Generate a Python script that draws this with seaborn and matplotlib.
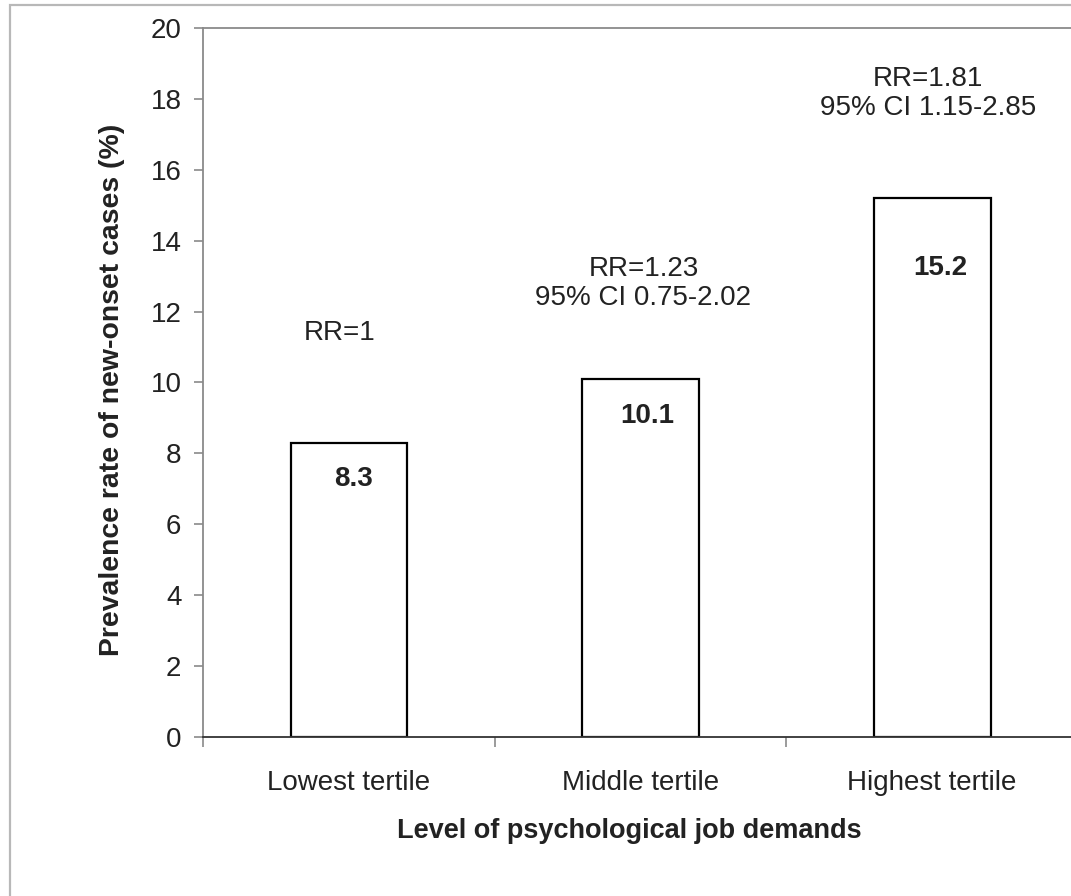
import matplotlib
matplotlib.use("Agg")
import matplotlib.pyplot as plt
import seaborn as sns
import pandas as pd
from matplotlib.patches import Rectangle

# Data
categories = ["Lowest tertile", "Middle tertile", "Highest tertile"]
prevalence = [8.3, 10.1, 15.2]
rr_labels = ["RR=1", "RR=1.23\n95% CI 0.75-2.02", "RR=1.81\n95% CI 1.15-2.85"]
rr_y = [11.4, 12.8, 18.15]

df = pd.DataFrame({"Level": categories, "Prevalence": prevalence})

sns.set_style("white")
plt.rcParams["font.family"] = ["Liberation Sans", "DejaVu Sans"]

fig = plt.figure(figsize=(10.71, 8.96), dpi=100)
ax = fig.add_axes([203 / 1071, 159 / 896, 875 / 1071, 709 / 896])

sns.barplot(data=df, x="Level", y="Prevalence", color="white",
            edgecolor="black", linewidth=1.6, width=0.4, saturation=1, ax=ax)

ax.set_xlim(-0.5, 2.5)
ax.set_ylim(0, 20)
ax.set_yticks(range(0, 21, 2))

# spines
for s in ["left", "top"]:
    ax.spines[s].set_color("#8a8a8a")
    ax.spines[s].set_linewidth(1.3)
ax.spines["bottom"].set_color("#333333")
ax.spines["bottom"].set_linewidth(1.3)
ax.spines["right"].set_visible(False)

ax.tick_params(axis="y", direction="out", length=6.5, width=1.2, color="#8a8a8a",
               labelsize=20, labelcolor="#222222", pad=9, left=True)
ax.set_xticks([-0.5, 0.5, 1.5, 2.5], minor=True)
ax.tick_params(axis="x", which="minor", direction="out", length=7, width=1.2,
               color="#8a8a8a", bottom=True)
ax.tick_params(axis="x", which="major", length=0, labelsize=20,
               labelcolor="#222222", pad=24)

ax.set_xlabel("Level of psychological job demands", fontsize=19.5,
              fontweight="bold", color="#222222")
ax.set_ylabel("Prevalence rate of new-onset cases (%)", fontsize=20.4,
              fontweight="bold", color="#222222")
ax.xaxis.set_label_coords(0.487, -0.132)
ax.xaxis.label.set_va("center")
ax.yaxis.set_label_coords(-0.104, 0.489)
ax.yaxis.label.set_va("center")

# value labels inside the bars
value_offsets = [(3.6, -26), (5, -26.6), (5.8, -50.4)]
for i, (v, off) in enumerate(zip(prevalence, value_offsets)):
    ax.annotate(f"{v}", xy=(i, v), xytext=off, textcoords="offset points",
                ha="center", va="center", fontsize=20, fontweight="bold",
                color="#222222")

# relative risk annotations
rr_x = [-0.03, 1.01, 1.986]
for x, y, t in zip(rr_x, rr_y, rr_labels):
    ax.text(x, y, t, ha="center", va="center", fontsize=20, color="#222222",
            linespacing=1.15, multialignment="center")

# light frame around the whole figure
fig.patches.append(Rectangle((10 / 1071, -0.05), 1.1, 1 - 5 / 896 + 0.05,
                             transform=fig.transFigure, fill=False,
                             edgecolor="#b8b8b8", linewidth=1.6))

plt.savefig("out.png", dpi=100)
